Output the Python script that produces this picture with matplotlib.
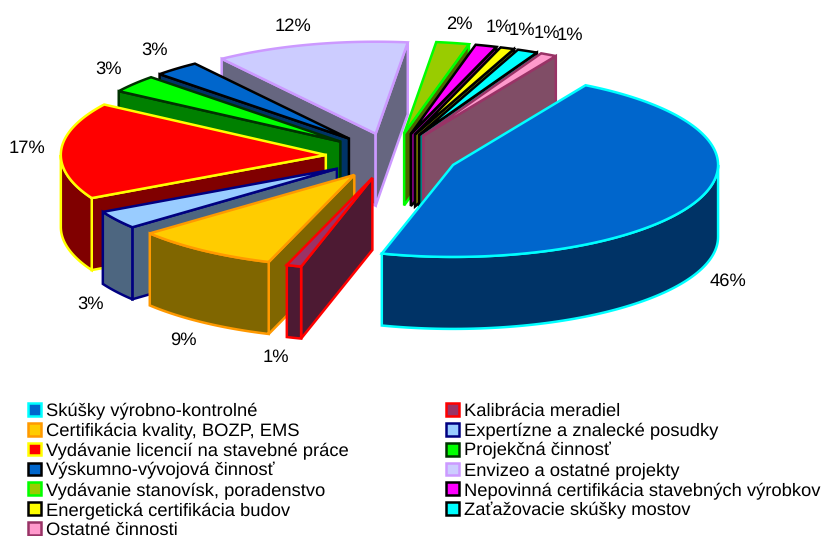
import numpy as np
import matplotlib
matplotlib.use('Agg')
import matplotlib.pyplot as plt
from matplotlib.patches import Polygon, Patch

plt.rcParams['font.family'] = ['Liberation Sans', 'DejaVu Sans']
plt.rcParams['text.hinting'] = 'none'

#data, in the order the slices go round the pie
labels = ['Skúšky výrobno-kontrolné', 'Kalibrácia meradiel', 'Certifikácia kvality, BOZP, EMS',
          'Expertízne a znalecké posudky', 'Vydávanie licencií na stavebné práce', 'Projekčná činnosť',
          'Výskumno-vývojová činnosť', 'Envizeo a ostatné projekty', 'Vydávanie stanovísk, poradenstvo',
          'Nepovinná certifikácia stavebných výrobkov', 'Energetická certifikácia budov',
          'Zaťažovacie skúšky mostov', 'Ostatné činnosti']
values = [46, 0.9, 8.8, 3.2, 17, 3.1, 2.8, 11.8, 2, 1.3, 0.85, 1.25, 1.0]

#colours of the top, the side and the outline of each slice
tops = ['#0066CC', '#993366', '#FFCC00', '#99CCFF', '#FF0000', '#00FF00', '#0066CC',
        '#CCCCFF', '#99CC00', '#FF00FF', '#FFFF00', '#00FFFF', '#FF99CC']
sides = ['#003366', '#4D1A33', '#806600', '#4D6680', '#800000', '#008000', '#003366',
         '#666680', '#4D6600', '#800080', '#808000', '#008080', '#804D66']
edges = ['#00FFFF', '#FF0000', '#FF9900', '#000080', '#FFFF00', '#003300', '#000000',
         '#CC99FF', '#00FF00', '#000000', '#000000', '#000000', '#993366']

#percent labels, placed by hand (pixels)
pct_x = [728, 276, 183, 91, 27, 109, 155, 293, 459, 499, 522, 547, 570]
pct_y = [281, 357, 340, 304, 148, 69, 50, 26, 24, 27, 30, 33, 35]

#pie geometry in pixels
cx, cy = 392, 156
rx, ry = 265, 92
depth = 72
explode = 0.25
start = 30
lw = 1.8

#back slices first, the big one last
order = [7, 8, 9, 10, 11, 12, 6, 5, 4, 3, 2, 1, 0]

fig = plt.figure(figsize=(8.25, 5.36), dpi=100)
ax = fig.add_axes([0, 0, 1, 1])
ax.set_xlim(0, 825)
ax.set_ylim(536, 0)
ax.axis('off')


def point(ox, oy, deg):
    a = np.radians(deg)
    return ox + rx * np.sin(a), oy - ry * np.cos(a)


def add_poly(pts, face, edge):
    ax.add_patch(Polygon(pts, closed=True, facecolor=face, edgecolor=edge, linewidth=lw, joinstyle='miter'))


angles = start + np.cumsum([0] + values) * 3.6

for i in order:
    a0, a1 = angles[i], angles[i + 1]
    mid = np.radians((a0 + a1) / 2)
    ox = cx + explode * rx * np.sin(mid)
    oy = cy - explode * ry * np.cos(mid)

    #radial walls, only the ones facing the viewer
    for ang, visible in ((a0, np.sin(np.radians(a0)) < 0), (a1, np.sin(np.radians(a1)) > 0)):
        if visible:
            px, py = point(ox, oy, ang)
            add_poly([(ox, oy), (px, py), (px, py + depth), (ox, oy + depth)], sides[i], edges[i])

    #outer wall, only the front part of the rim
    for k in (0, 360):
        lo, hi = max(a0, 90 + k), min(a1, 270 + k)
        if lo < hi:
            t = np.linspace(lo, hi, 80)
            px, py = point(ox, oy, t)
            pts = list(zip(px, py)) + list(zip(px[::-1], py[::-1] + depth))
            add_poly(pts, sides[i], edges[i])

    #top of the slice
    t = np.linspace(a0, a1, 120)
    px, py = point(ox, oy, t)
    add_poly([(ox, oy)] + list(zip(px, py)), tops[i], edges[i])

for i in range(len(values)):
    ax.text(pct_x[i], pct_y[i], f'{values[i]:.0f}%', ha='center', va='center', fontsize=13.2, color='black')

#legend, two columns filled row by row in the original
handles = [Patch(facecolor=tops[i], edgecolor=edges[i], linewidth=lw) for i in range(len(labels))]
idx = list(range(0, 13, 2)) + list(range(1, 13, 2))
ax.legend([handles[i] for i in idx], [labels[i] for i in idx], ncol=2, frameon=False, fontsize=13.2,
          loc='upper left', bbox_to_anchor=(28 / 825, 1 - 402.5 / 536), borderaxespad=0, borderpad=0,
          handlelength=0.7, handleheight=0.7, handletextpad=0.28, labelspacing=0.155, columnspacing=5.33)

plt.savefig('out.png', dpi=100)
